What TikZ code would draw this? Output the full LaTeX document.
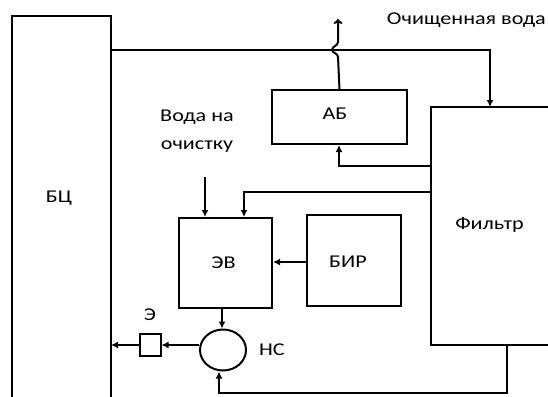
\documentclass[tikz,border=0pt]{standalone}
\usepackage{fontspec}
\setmainfont{Carlito}[FakeStretch=1.23]
\usetikzlibrary{arrows.meta,shapes.geometric}
\tikzset{
  blk/.style={draw,line width=2pt,inner sep=0pt},
  lbl/.style={font=\fontsize{18}{28}\selectfont,inner sep=0pt},
  flow/.style={line width=2pt,-{Latex[length=7pt,width=7pt]}},
  pipe/.style={line width=2pt},
}
\begin{document}
\begin{tikzpicture}[x=1pt,y=-1pt]
\useasboundingbox (0,0) rectangle (548,396);
% boxes
\draw[pipe] (12,400) -- (12,16) -- (111,16) -- (111,400);
\node[lbl] (bc) at (59,198) {БЦ};
\node[blk,minimum width=135pt,minimum height=54pt] (ab) at (339.5,117) {};
\node[lbl] at (335,114) {АБ};
\node[blk,minimum width=93pt,minimum height=90pt] (ev) at (225.5,263) {};
\node[lbl] at (223.5,263) {ЭВ};
\node[blk,minimum width=94pt,minimum height=91pt] (bir) at (354,260.5) {};
\node[lbl] at (348,262) {БИР};
\draw[pipe] (550,107) -- (431,107) -- (431,345) -- (550,345);
\coordinate (ftop) at (490,107);
\coordinate (fbot) at (507,345);
\node[lbl] (filt) at (489.5,225) {Фильтр};
\node[draw,line width=2pt,ellipse,minimum width=46pt,minimum height=41pt,inner sep=0pt] (ns) at (223,350) {};
\node[lbl] at (272,350) {НС};
\node[draw,line width=2pt,minimum width=21pt,minimum height=22pt,inner sep=0pt] (e) at (150,345) {};
\node[lbl] at (150,315) {Э};
% texts
\node[lbl,anchor=east] at (546,20) {Очищенная вода};
\node[lbl,align=center] at (197,131) {Вода на\\очистку};
% connectors
\draw[flow] (111,50) -- (490,50) -- (ftop);
\draw[pipe,-{To[length=5pt,width=9pt]}] (ab.north) -- (338,57) .. controls (338,53) and (332,53) .. (332,50) .. controls (332,46) and (338,46) .. (338,42) -- (338,19);
\draw[flow] (431,166) -- (339,166) -- ([xshift=-0.5pt]ab.south);
\draw[flow] (431,192) -- (244,192) -- ([xshift=18.5pt]ev.north);
\draw[flow] (205,177) -- ([xshift=-20.5pt]ev.north);
\coordinate (birin) at ([yshift=-1.5pt]bir.west);
\draw[flow] (birin) -- (birin -| ev.east);
\draw[flow] ([xshift=-3.5pt]ev.south) -- ([xshift=-1pt]ns.north);
\coordinate (nsout) at ([yshift=5pt]ns.west);
\draw[flow] (nsout) -- (nsout -| e.east);
\draw[flow] (e.west) -- (e.west -| 111,0);
\draw[flow] (fbot) -- (507,393) -- (219,393) -- ([xshift=-4pt]ns.south);
\end{tikzpicture}
\end{document}
